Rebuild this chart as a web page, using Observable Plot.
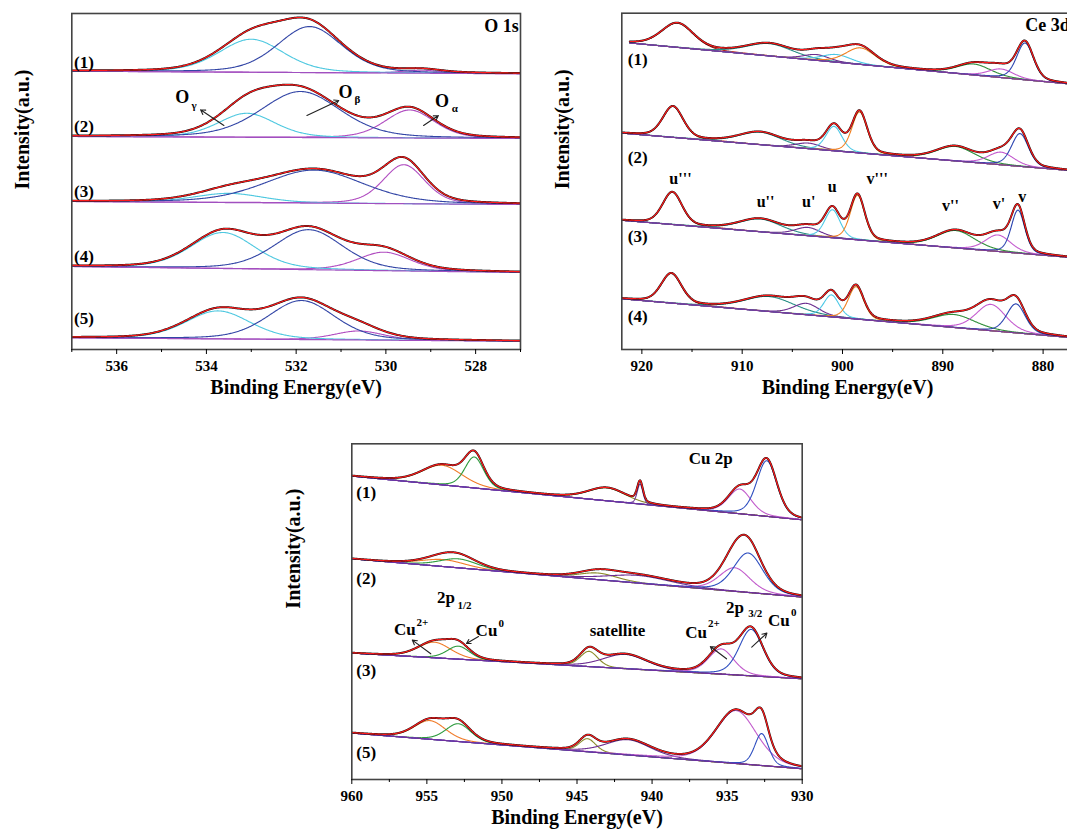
<!DOCTYPE html>
<html><head><meta charset="utf-8">
<script src="https://cdn.jsdelivr.net/npm/d3@7"></script>
<script src="https://cdn.jsdelivr.net/npm/@observablehq/plot@0.6"></script>
<style>
html,body{margin:0;padding:0;background:#fff;overflow:hidden;width:1067px;height:835px}
#root{position:relative;width:1067px;height:835px;overflow:hidden}
#root svg{position:absolute}
#root svg text{font-family:"Liberation Serif","Times New Roman",serif}
#root svg g[aria-label="x-axis tick label"]{font-size:15px;font-weight:bold}
</style></head><body><div id="root"></div>
<script>
// ---------- texts ----------
const xTitle = "Binding Energy(eV)";
const yTitle = "Intensity(a.u.)";

// ---------- O 1s ----------
const o1sNames = ["(1)", "(2)", "(3)", "(4)", "(5)"];
const o1sNameY = [287.3, 223, 158.3, 93, 31];
const o1sBaseStart = [278.3, 213, 148, 83, 11.7];   // a.u. at 537 eV
const o1sBaseEnd = [275.7, 211, 145, 77, 8.3];      // a.u. at 527 eV
// [center eV, height a.u., FWHM eV]
const oGamma = [[533.0, 33, 1.7], [533.1, 24, 1.5], [533.5, 9.2, 1.8], [533.63, 36, 1.7], [533.74, 28, 1.7]];
const oBeta = [[531.7, 46, 1.7], [531.9, 46, 2.1], [531.6, 33, 2.6], [531.72, 40, 1.8], [531.88, 39, 1.75]];
const oAlpha = [[529.2, 3, 1.0], [529.47, 28, 1.3], [529.6, 39, 1.1], [530.04, 18.5, 1.4], [530.6, 9, 1.3]];
const o1sMajor = [536, 534, 532, 530, 528];
const o1sMinor = [537, 535, 533, 531, 529, 527];

// ---------- Ce 3d ----------
const ceNames = ["(1)", "(2)", "(3)", "(4)"];
const ceNameY = [289.5, 192, 112.5, 33.4];
const ceDataStart = [921.2, 922, 922, 922];
const ceBaseStart = [307.3, 216.4, 129.2, 50.7];   // a.u. at 922 eV
const ceBaseEnd = [265.2, 178.7, 91.8, 11.7];      // a.u. at 877 eV
const ceU3 = [[916.45, 24.3, 3.8], [916.9, 31, 2.4], [916.96, 32.3, 2.3], [917.06, 29.6, 2.4]];
const ceU2 = [[907.3, 12.3, 5.5], [908.2, 12.5, 5], [908.2, 12.8, 5], [907.3, 15, 6]];
const ceU1 = [[902.6, 5.8, 3], [903.4, 5.6, 3], [903.45, 8.3, 3], [903.6, 11.4, 3]];
const ceU0 = [[900.6, 7.7, 3.5], [900.85, 24.5, 1.9], [901.0, 28, 1.8], [901.1, 22, 1.8]];
const ceV3 = [[898.2, 16.6, 3.5], [898.3, 41, 1.8], [898.5, 44.5, 1.7], [898.65, 32.4, 1.8]];
const ceV2 = [[886.9, 11, 4], [888.75, 14.5, 4.5], [888.7, 17.4, 4.5], [888.9, 13, 5]];
const ceV1 = [[884.2, 8.6, 3], [884.2, 12.6, 3], [884.5, 16.5, 3], [885.2, 26.3, 3.5]];
const ceV0 = [[881.8, 36.8, 2], [882.3, 32.8, 2], [882.5, 43, 1.6], [882.7, 29, 2.2]];
const cePeakNames = ["u'''", "u''", "u'", "u", "v'''", "v''", "v'", "v"];
const cePeakNameX = [916.15, 907.67, 903.36, 901.02, 896.54, 889.23, 884.41, 882.08];
const cePeakNameY = [170.7, 147.3, 147.3, 163, 170.7, 144, 145.7, 153];
const ceMajor = [920, 910, 900, 890, 880];
const ceMinor = [915, 905, 895, 885];

// ---------- Cu 2p ----------
const cuNames = ["(1)", "(2)", "(3)", "(5)"];
const cuNameY = [287.4, 200.7, 109, 27.4];
const cuBaseStart = [303.4, 220.7, 126.4, 46.4];   // a.u. at 960 eV
const cuBaseEnd = [259.7, 182.4, 100.7, 10.7];     // a.u. at 930 eV
const cuHalf2 = [[953.98, 19.6, 3.2], [953.9, 7, 3.5], [954.5, 15.6, 2.6], [954.8, 18.7, 2.5]];
const cuHalf0 = [[951.84, 31, 1.5], [952.9, 9, 3], [952.9, 13, 1.8], [952.9, 17.8, 2.0]];
const cuSatA = [[943.0, 13, 3], [943.6, 6.7, 3], [944.2, 15.3, 1.4], [944.3, 13.1, 1.3]];
const cuSatB = [[940.8, 20, 0.45], [940.9, 7.7, 5], [941.8, 14.3, 3.5], [941.6, 15.3, 3.5]];
const cuThree2 = [[934.16, 24.7, 1.8], [934.5, 23.6, 2.4], [935.4, 25.3, 2.0], [934.4, 53, 3.2]];
const cuThree0 = [[932.36, 55.6, 1.6], [933.6, 39.5, 2.3], [933.4, 46.5, 1.9], [932.7, 32, 1.1]];
const cuMajor = [960, 955, 950, 945, 940, 935, 930];
const cuMinor = [957.5, 952.5, 947.5, 942.5, 937.5, 932.5];

// ---------- helpers ----------
const FONT = '"Liberation Serif","Times New Roman",serif';
function pv(x, [c, h, w]) {
  const t = (x - c) / w;
  return h * (0.7 * Math.exp(-4 * Math.LN2 * t * t) + 0.3 / (1 + 4 * t * t));
}

function panel(cfg) {
  const [x0, x1] = cfg.xDomain;
  const marks = [];
  cfg.spectra.forEach(sp => {
    const lo = Math.min(sp.start, x1), hi = Math.max(sp.start, x1);
    const grid = d3.range(lo, hi + 1e-9, cfg.step);
    const base = x => sp.b0 + (sp.b1 - sp.b0) * (x0 - x) / (x0 - x1);
    sp.comps.forEach(({p, color}) => {
      marks.push(Plot.line(grid.map(x => ({x, y: base(x) + pv(x, p)})),
        {x: "x", y: "y", stroke: color, strokeWidth: 1.1, clip: true}));
    });
    marks.push(Plot.line(grid.map(x => ({x, y: base(x)})),
      {x: "x", y: "y", stroke: cfg.baseColor, strokeWidth: 1.2, clip: true}));
    const env = grid.map(x => ({x, y: base(x) + d3.sum(sp.comps, c => pv(x, c.p))}));
    marks.push(Plot.line(env, {x: "x", y: "y", stroke: "#111", strokeWidth: 2, clip: true}));
    marks.push(Plot.line(env, {x: "x", y: "y", stroke: "#ff1a1a", strokeWidth: 1.2, clip: true}));
  });
  marks.push(Plot.frame({stroke: "#444", strokeWidth: 1.6}));
  marks.push(Plot.axisX(cfg.major, {tickSize: 5, tickPadding: 6, label: null, fontSize: 15, fontWeight: "bold", fontFamily: FONT}));
  marks.push(Plot.axisX(cfg.minor, {tickSize: 3, tickFormat: () => "", label: null}));
  marks.push(Plot.text([xTitle], {frameAnchor: "bottom", dy: 44, text: d => d, fontSize: 20, fontWeight: "bold", fontFamily: FONT}));
  marks.push(Plot.text([yTitle], {frameAnchor: "left", dx: cfg.yDx, dy: cfg.yDy, rotate: -90, text: d => d, fontSize: 20, fontWeight: "bold", fontFamily: FONT}));
  marks.push(Plot.text(cfg.names.map((t, i) => ({t, y: cfg.nameY[i]})),
    {x: () => cfg.nameX, y: "y", text: "t", textAnchor: "start", fontSize: 17, fontWeight: "bold", fontFamily: FONT}));
  (cfg.extra || []).forEach(m => marks.push(m));
  const svg = Plot.plot({
    width: cfg.width, height: cfg.height,
    marginLeft: cfg.m[0], marginRight: cfg.m[1], marginTop: cfg.m[2], marginBottom: cfg.m[3],
    x: {domain: cfg.xDomain},
    y: {domain: [0, cfg.yMax], axis: null},
    style: {fontFamily: FONT, background: "transparent", overflow: "visible"},
    marks
  });
  svg.style.left = cfg.left + "px";
  svg.style.top = cfg.top + "px";
  document.getElementById("root").appendChild(svg);
}

const txt = (data, opts) => Plot.text(data, {x: "x", y: "y", text: "t", fontWeight: "bold", fontFamily: FONT, ...opts});
const arr = (data) => Plot.arrow(data, {x1: "x1", y1: "y1", x2: "x2", y2: "y2", stroke: "#222", strokeWidth: 1.1, headLength: 7});

// ---------- O 1s panel ----------
panel({
  left: 0, top: 0, width: 540, height: 410, m: [71.3, 20, 13, 61],
  xDomain: [537, 527], yMax: 336, step: 0.02,
  major: o1sMajor, minor: o1sMinor, baseColor: "#a050c0",
  yDx: -49, yDy: 8,
  names: o1sNames, nameY: o1sNameY, nameX: 536.95,
  spectra: o1sNames.map((_, i) => ({
    start: 537, b0: o1sBaseStart[i], b1: o1sBaseEnd[i],
    comps: [
      {p: oAlpha[i], color: "#b04cc0"},
      {p: oGamma[i], color: "#4ec8e0"},
      {p: oBeta[i], color: "#3346a6"}
    ]
  })),
  extra: [
    txt([{t: "O 1s", x: 527.04, y: 323}], {textAnchor: "end", fontSize: 18}),
    txt([{t: "O", x: 534.54, y: 252.3}, {t: "O", x: 530.9, y: 257.3}, {t: "O", x: 528.75, y: 248.3}], {fontSize: 18}),
    txt([{t: "γ", x: 534.33, y: 244}, {t: "β", x: 530.7, y: 249.7}, {t: "α", x: 528.53, y: 240.7}], {fontSize: 11, textAnchor: "start"}),
    arr([{x1: 533.61, y1: 224, x2: 534.13, y2: 239.7}, {x1: 531.76, y1: 234, x2: 531.05, y2: 249}, {x1: 529.16, y1: 224, x2: 528.83, y2: 234}])
  ]
});

// ---------- Ce 3d panel ----------
panel({
  left: 540, top: 0, width: 540, height: 410, m: [81.3, 7.3, 12.7, 61],
  xDomain: [922, 877], yMax: 336.3, step: 0.05,
  major: ceMajor, minor: ceMinor, baseColor: "#7a3b9a",
  yDx: -59.4, yDy: 8,
  names: ceNames, nameY: ceNameY, nameX: 921.4,
  spectra: ceNames.map((_, i) => ({
    start: ceDataStart[i], b0: ceBaseStart[i], b1: ceBaseEnd[i],
    comps: [
      {p: ceU3[i], color: "#b0201a"},
      {p: ceU2[i], color: "#2a8f86"},
      {p: ceU1[i], color: "#6b2d8f"},
      {p: ceU0[i], color: "#4cc8e6"},
      {p: ceV3[i], color: "#f07f1f"},
      {p: ceV2[i], color: "#2f8f3a"},
      {p: ceV1[i], color: "#c45ccf"},
      {p: ceV0[i], color: "#2b44b0"}
    ]
  })),
  extra: [
    txt([{t: "Ce 3d", x: 881.77, y: 324}], {textAnchor: "start", fontSize: 18}),
    txt(cePeakNames.map((t, i) => ({t, x: cePeakNameX[i], y: cePeakNameY[i]})), {fontSize: 16})
  ]
});

// ---------- Cu 2p panel ----------
panel({
  left: 280, top: 430, width: 540, height: 405, m: [71.3, 18.3, 13.3, 56],
  xDomain: [960, 930], yMax: 335.7, step: 0.02,
  major: cuMajor, minor: cuMinor, baseColor: "#7030a0",
  yDx: -58.5, yDy: -3,
  names: cuNames, nameY: cuNameY, nameX: 959.7,
  spectra: cuNames.map((_, i) => ({
    start: 960, b0: cuBaseStart[i], b1: cuBaseEnd[i],
    comps: [
      {p: cuHalf2[i], color: "#f07c2a"},
      {p: cuHalf0[i], color: "#2e9b3e"},
      {p: cuSatA[i], color: "#8c8c2c"},
      {p: cuSatB[i], color: "#6c2d91"},
      {p: cuThree2[i], color: "#c25ccc"},
      {p: cuThree0[i], color: "#2f4fc0"}
    ]
  })),
  extra: [
    txt([{t: "Cu 2p", x: 936.1, y: 321}, {t: "2p", x: 953.72, y: 182.4}, {t: "2p", x: 934.48, y: 172.4},
         {t: "Cu", x: 956.47, y: 149.7}, {t: "Cu", x: 951.03, y: 149}, {t: "satellite", x: 942.3, y: 149.4},
         {t: "Cu", x: 937.07, y: 147.4}, {t: "Cu", x: 931.55, y: 159}], {fontSize: 17}),
    txt([{t: "1/2", x: 952.49, y: 174}, {t: "3/2", x: 933.13, y: 165.7}], {fontSize: 11}),
    txt([{t: "2+", x: 955.69, y: 157.4}, {t: "0", x: 950.23, y: 156.4},
         {t: "2+", x: 936.27, y: 155.7}, {t: "0", x: 930.75, y: 167.4}], {fontSize: 11, textAnchor: "start"}),
    arr([{x1: 954.74, y1: 125.7, x2: 955.97, y2: 139.4}, {x1: 951.56, y1: 143, x2: 952.36, y2: 136},
         {x1: 935.04, y1: 120.7, x2: 936.12, y2: 133}, {x1: 933.36, y1: 132.4, x2: 932.35, y2: 146.4}])
  ]
});
</script></body></html>
